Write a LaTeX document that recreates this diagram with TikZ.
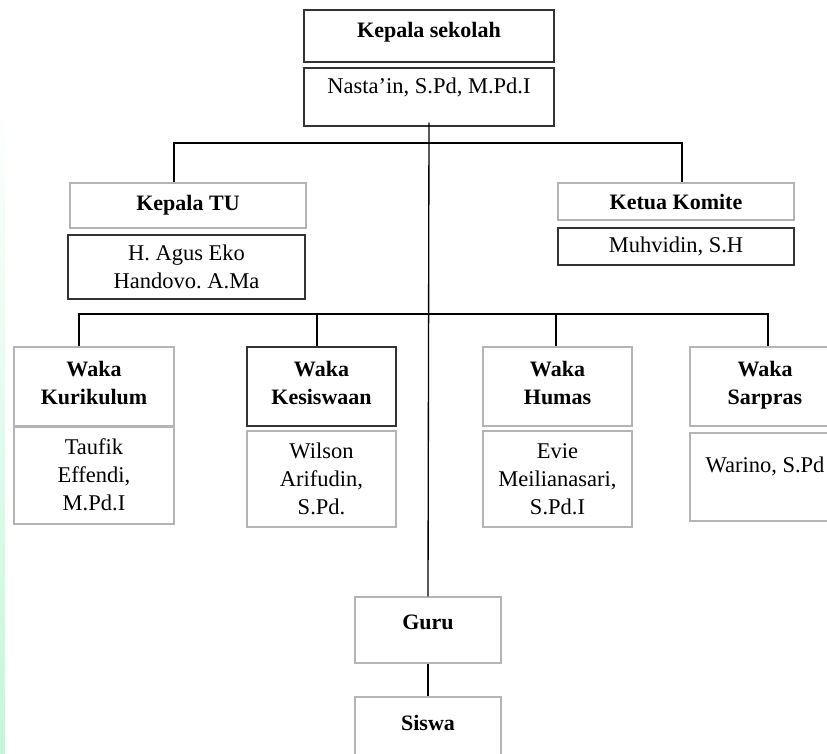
\documentclass[tikz,border=0pt]{standalone}
\usepackage{fontspec}
\setmainfont{Liberation Serif}
\usepackage{xcolor}
\usepackage{tikz}
\definecolor{boxgray}{HTML}{B4B4B4}
\definecolor{boxdark}{HTML}{333333}
\definecolor{stripgreen}{HTML}{C6F5DA}
\frenchspacing

\begin{document}
\begin{tikzpicture}[x = 0.6pt, y = -0.6pt,
    every node/.style = {font = \fontsize{13.5}{16.8}\selectfont, align = center, inner sep = 0pt},
    darkbox/.style = {draw = boxdark, line width = 0.8pt, rectangle},
    graybox/.style = {draw = boxgray, line width = 0.8pt, rectangle},
    title/.style = {font = \fontsize{13.2}{16.8}\selectfont\bfseries},
    waka/.style = {title, minimum height = 47.4pt, text depth = 4pt},
    link/.style = {draw = black, line width = 0.8pt}]
    \useasboundingbox (0,0) rectangle (827,753);
    \clip (0,0) rectangle (827,753);
    \shade[top color = white, bottom color = stripgreen] (0,100) rectangle (5,753);

    % kepala sekolah
    \node[darkbox, title, minimum width = 150pt, minimum height = 31.2pt, text depth = 7pt] (kepsek) at (429,36) {Kepala sekolah};
    \node[darkbox, minimum width = 150pt, minimum height = 34.8pt, text depth = 13pt] (kepsekname) at (429,97) {Nasta'in, S.Pd, M.Pd.I};

    % TU dan komite
    \node[graybox, title, minimum width = 141.6pt, minimum height = 27pt] (katu) at (188,205.5) {Kepala TU};
    \node[darkbox, minimum width = 142.2pt, minimum height = 38.4pt] (katuname) at (186.5,267) {H. Agus Eko\\Handovo. A.Ma};
    \node[graybox, title, minimum width = 141.6pt, minimum height = 22.2pt] (komite) at (676,201.5) {Ketua Komite};
    \node[darkbox, minimum width = 141.6pt, minimum height = 22.2pt] (komitename) at (676,246.5) {Muhvidin, S.H};

    % waka
    \node[graybox, waka, minimum width = 96pt] (kurikulum) at (94,386.5) {Waka\\Kurikulum};
    \node[darkbox, waka, minimum width = 89.4pt] (kesiswaan) at (321.5,386.5) {Waka\\Kesiswaan};
    \node[graybox, waka, minimum width = 89.4pt] (humas) at (557.5,386.5) {Waka\\Humas};
    \node[graybox, waka, minimum width = 90pt] (sarpras) at (765,386.5) {Waka\\Sarpras};

    \node[graybox, minimum width = 96pt, minimum height = 58.2pt, text depth = 1pt] (kurikulumname) at (94,475.5) {Taufik\\Effendi,\\M.Pd.I};
    \node[graybox, minimum width = 89.4pt, minimum height = 57.6pt] (kesiswaanname) at (321.5,479) {Wilson\\Arifudin,\\S.Pd.};
    \node[graybox, minimum width = 89.4pt, minimum height = 57.6pt] (humasname) at (557.5,479) {Evie\\Meilianasari,\\S.Pd.I};
    \node[graybox, minimum width = 90pt, minimum height = 52.8pt, text depth = 15pt] (sarprasname) at (765,477) {Warino, S.Pd};

    % guru dan siswa
    \node[graybox, title, minimum width = 87.6pt, minimum height = 39.6pt, text depth = 9pt] (guru) at (428,630) {Guru};
    \node[graybox, title, minimum width = 87.6pt, minimum height = 39.6pt, text depth = 9pt] (siswa) at (428,730) {Siswa};

    \coordinate (topbus) at (428,143);
    \coordinate (bus) at (428,314);

    \draw[link] ([yshift = 2.4pt]kepsekname.south) -- (guru.north);
    \draw[link] ([xshift = -8.4pt]katu.north) |- (topbus) -| ([xshift = 3.6pt]komite.north);
    \draw[link] ([xshift = -9pt]kurikulum.north) |- (bus) -| ([xshift = 1.8pt]sarpras.north);
    \draw[link] ([xshift = -2.7pt]kesiswaan.north) -- ([xshift = -2.7pt]kesiswaan.north |- bus);
    \draw[link] ([xshift = -0.9pt]humas.north) -- ([xshift = -0.9pt]humas.north |- bus);
    \draw[link] (guru.south) -- (siswa.north);
\end{tikzpicture}
\end{document}
